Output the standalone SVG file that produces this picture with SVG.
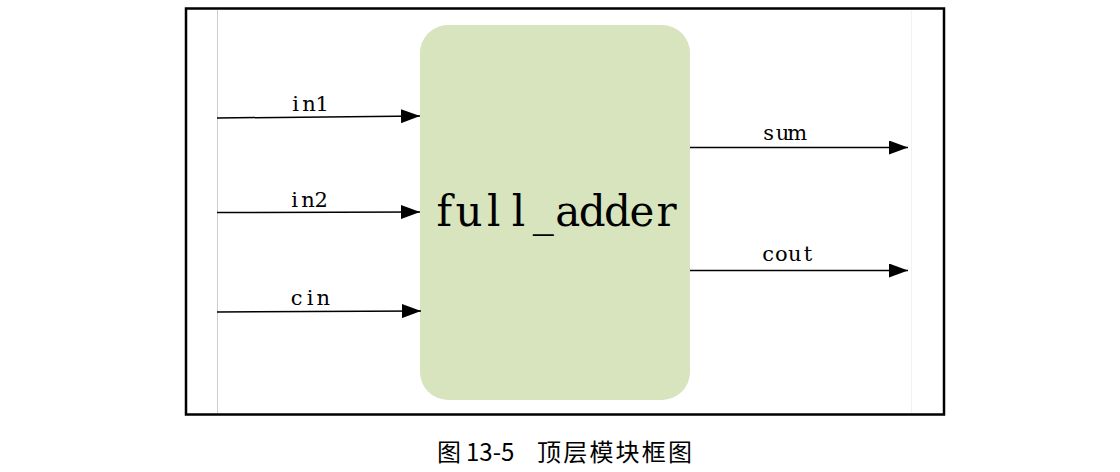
<svg xmlns="http://www.w3.org/2000/svg" width="1120" height="472" viewBox="0 0 1120 472">
<style>
.lbl{font-family:"DejaVu Serif","Liberation Serif",serif;font-size:21px;fill:#000;text-anchor:middle}
.big{font-family:"DejaVu Serif","Liberation Serif",serif;font-size:42px;fill:#000;text-anchor:middle}
.wire{stroke:#000;stroke-width:1.5;fill:none;marker-end:url(#ah)}
.cap{font-family:"Noto Sans CJK SC",sans-serif;font-size:24px;fill:#000}
</style>
<defs>
<marker id="ah" markerUnits="userSpaceOnUse" markerWidth="20" markerHeight="14" refX="19" refY="7" orient="auto">
<path d="M0,0 L19,7 L0,14 Z" fill="#000"/>
</marker>
</defs>
<rect x="0" y="0" width="1120" height="472" fill="#fff"/>
<rect id="frame" x="186" y="8.5" width="758" height="406" fill="none" stroke="#000" stroke-width="2.5"/>
<line x1="217.5" y1="10" x2="217.5" y2="413" stroke="#ccc" stroke-width="1"/>
<line x1="911.5" y1="10" x2="911.5" y2="413" stroke="#f2f2f2" stroke-width="1"/>
<g id="full_adder">
<rect x="420" y="25" width="270" height="375" rx="28" ry="28" fill="#d7e4bd"/>
<text class="big" y="226"><tspan x="444.35">f</tspan><tspan x="469.05">u</tspan><tspan x="493.75">l</tspan><tspan x="518.45">l</tspan><tspan x="543.15">_</tspan><tspan x="567.85">a</tspan><tspan x="592.3">d</tspan><tspan x="617.5">d</tspan><tspan x="641.95">e</tspan><tspan x="666.65">r</tspan></text>
</g>
<g id="connectors">
<path class="wire" d="M217,118 L420,116"/>
<path class="wire" d="M217,212.5 L420,212"/>
<path class="wire" d="M217,312 L421,311"/>
<path class="wire" d="M690,147.5 L908,147.5"/>
<path class="wire" d="M690,270.5 L908,270.5"/>
</g>
<g id="labels">
<text class="lbl" y="111"><tspan x="295.7">i</tspan><tspan x="309">n</tspan><tspan x="322.3">1</tspan></text>
<text class="lbl" y="207"><tspan x="294.7">i</tspan><tspan x="308">n</tspan><tspan x="321.3">2</tspan></text>
<text class="lbl" y="305"><tspan x="296.7">c</tspan><tspan x="310">i</tspan><tspan x="323.3">n</tspan></text>
<text class="lbl" y="140"><tspan x="768.7">s</tspan><tspan x="782.5">u</tspan><tspan x="797.3">m</tspan></text>
<text class="lbl" y="261"><tspan x="768.05">c</tspan><tspan x="781.35">o</tspan><tspan x="794.65">u</tspan><tspan x="807.95">t</tspan></text>
</g>
<text id="caption" class="cap" y="461"><tspan x="437">图</tspan><tspan x="466">13-5</tspan><tspan x="537" textLength="155" lengthAdjust="spacing">顶层模块框图</tspan></text>
</svg>
